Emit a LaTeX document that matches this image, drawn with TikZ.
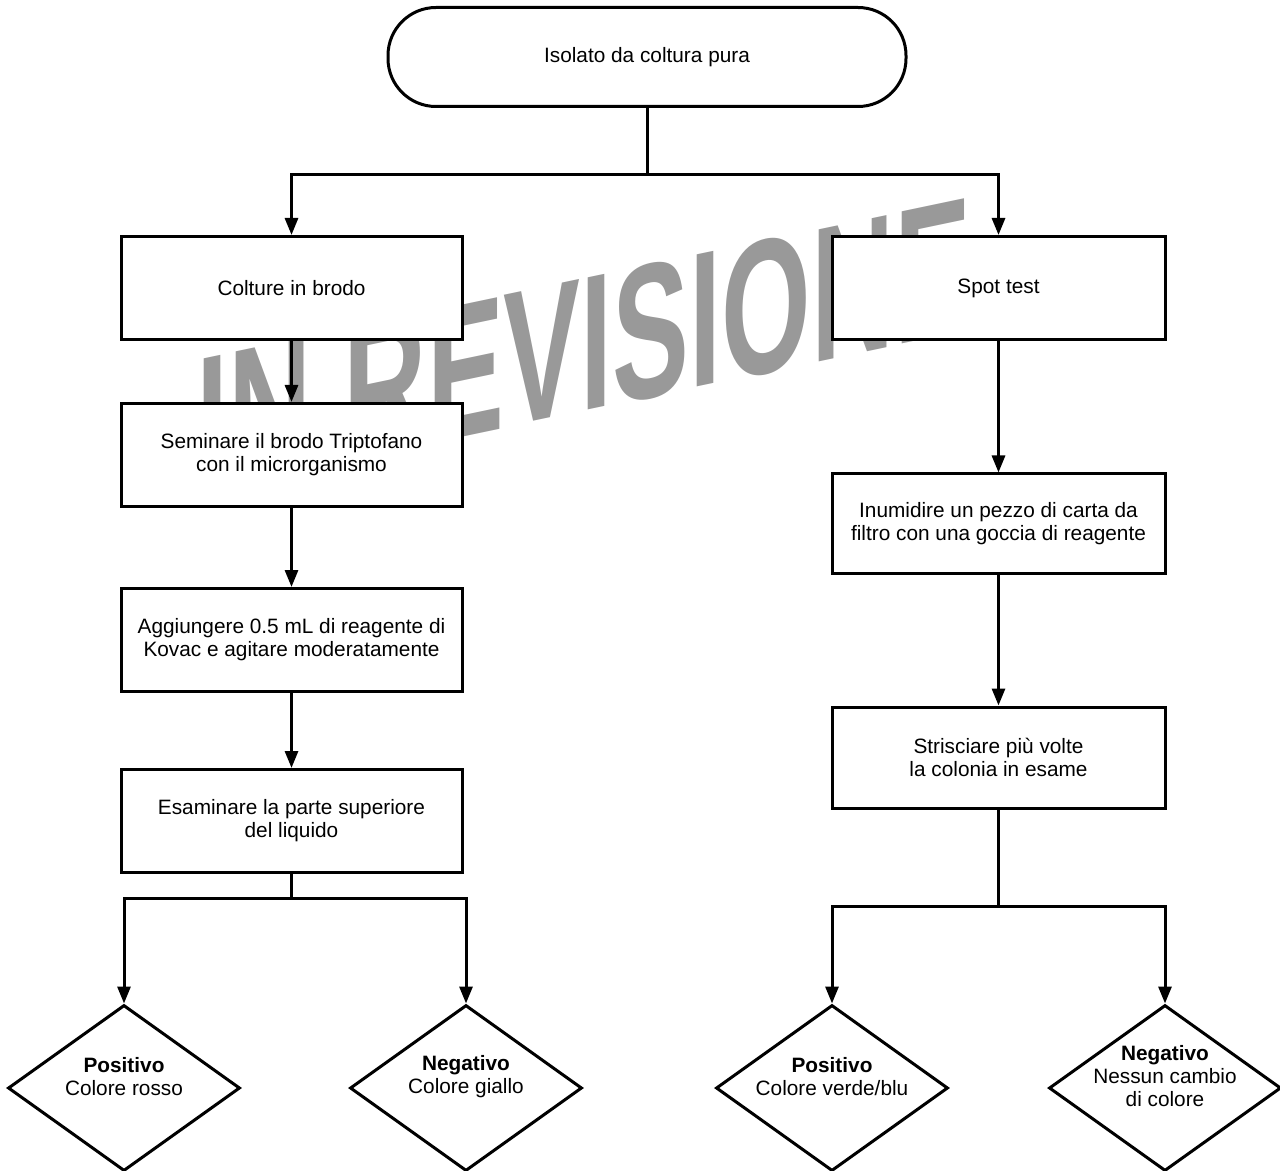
\documentclass[tikz,border=0pt]{standalone}
\usepackage{fontspec}
\setmainfont{Liberation Sans}
\usetikzlibrary{shapes,arrows.meta,positioning}

\begin{document}
\begin{tikzpicture}[x=0.5pt, y=-0.5pt, line width=1.5pt,
    font=\fontsize{10.4}{11.5}\selectfont,
    box/.style={draw, fill=white, rectangle, align=center, minimum width=170.5pt, minimum height=51.5pt, inner sep=2pt},
    rbox/.style={box, minimum width=166.5pt},
    term/.style={draw, fill=white, rectangle, rounded corners=24pt, minimum width=259pt, minimum height=49.5pt},
    choice/.style={draw, fill=white, diamond, minimum width=116pt, minimum height=83pt, inner sep=0pt},
    choicetext/.style={align=center, yshift=5.75pt},
    wm/.style={text=black!40, inner sep=0pt, font=\fontsize{96}{96}\selectfont\bfseries, cm={0.6,0.126,0,1,(0,0)}, transform shape},
    arr/.style={-{Triangle[length=8.5pt,width=6.5pt]}}]
    \useasboundingbox (0,0) rectangle (1280,1171);

    % watermark
    \coordinate (wmpos) at (584,345);
    \node[wm] (watermark) at (wmpos) {IN REVISIONE};

    \node[term] (start) at (647,57) {Isolato da coltura pura};

    \node[box] (b1) at (291.5,288) {Colture in brodo};
    \node[box] (b2) at (291.5,455) {Seminare il brodo Triptofano\\con il microrganismo};
    \node[box] (b3) at (291.5,640) {Aggiungere 0.5 mL di reagente di\\Kovac e agitare moderatamente};
    \node[box] (b4) at (291.5,821) {Esaminare la parte superiore\\del liquido};

    \node[rbox] (r1) at (998.5,288) {Spot test};
    \node[rbox, minimum height=49.5pt] (r2) at (998.5,523.5) {Inumidire un pezzo di carta da\\filtro con una goccia di reagente};
    \node[rbox, minimum height=50.5pt] (r3) at (998.5,757.5) {Strisciare più volte\\la colonia in esame};

    \node[choice, label={[choicetext]center:{\textbf{Positivo}\\Colore rosso}}] (d1) at (124,1088) {};
    \node[choice, label={[choicetext]center:{\textbf{Negativo}\\Colore giallo}}] (d2) at (466,1088) {};
    \node[choice, label={[choicetext]center:{\textbf{Positivo}\\Colore verde/blu}}] (d3) at (832,1088) {};
    \node[choice, label={[choicetext]center:{\textbf{Negativo}\\Nessun cambio\\di colore}}] (d4) at (1165,1088) {};

    % connectors
    \coordinate (split) at (647,175);
    \coordinate (lsplit) at (291.5,898);
    \coordinate (rsplit) at (998.5,906);
    \draw (start) -- (split);
    \draw[arr] (split) -| (b1);
    \draw[arr] (split) -| (r1);
    \draw[arr] (b1) -- (b2);
    \draw[arr] (b2) -- (b3);
    \draw[arr] (b3) -- (b4);
    \draw[arr] (r1) -- (r2);
    \draw[arr] (r2) -- (r3);
    \draw (b4) -- (lsplit);
    \draw[arr] (lsplit) -| (d1);
    \draw[arr] (lsplit) -| (d2);
    \draw (r3) -- (rsplit);
    \draw[arr] (rsplit) -| (d3);
    \draw[arr] (rsplit) -| (d4);
\end{tikzpicture}
\end{document}
